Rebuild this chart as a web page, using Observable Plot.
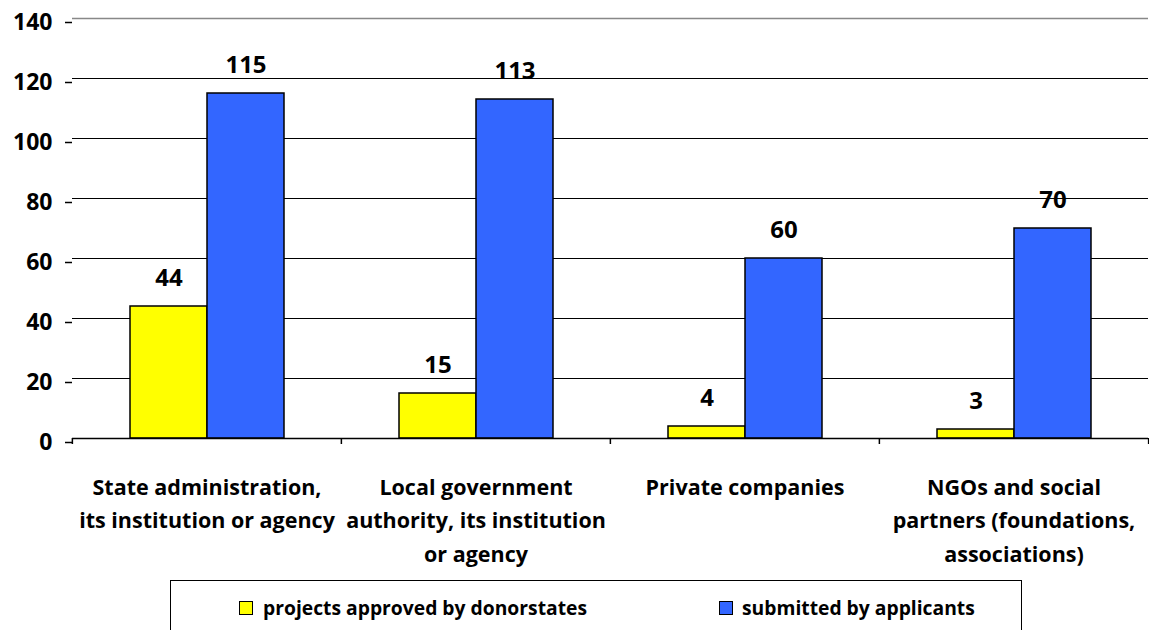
<!DOCTYPE html>
<html>
<head>
<meta charset="utf-8">
<script src="https://cdn.jsdelivr.net/npm/d3@7"></script>
<script src="https://cdn.jsdelivr.net/npm/@observablehq/plot@0.6"></script>
<style>
  html, body { margin: 0; padding: 0; background: #fff; }
  #wrap { position: relative; width: 1149px; height: 630px; overflow: hidden; font-family: "Open Sans", sans-serif; font-weight: bold; }
  #legend { position: absolute; left: 170px; top: 580px; width: 852px; height: 80px; border: 1.5px solid #000; box-sizing: border-box; }
  .item { position: absolute; top: 14px; font-size: 19.3px; line-height: 26px; white-space: nowrap; color: #000; }
  .sw { position: absolute; width: 12px; height: 12px; border: 1px solid #000; }
</style>
</head>
<body>
<div id="wrap"><div id="chart"></div><div id="legend"></div></div>
<script>
// ---- data ----
const categories = [
  "State administration,\nits institution or agency",
  "Local government\nauthority, its institution\nor agency",
  "Private companies",
  "NGOs and social\npartners (foundations,\nassociations)"
];
const seriesNames = ["projects approved by donorstates", "submitted by applicants"];
const approved = [44, 15, 4, 3];
const submitted = [115, 113, 60, 70];
const seriesColors = ["#FFFF00", "#3366FF"];
const yTicks = [0, 20, 40, 60, 80, 100, 120, 140];
const gridValues = [20, 40, 60, 80, 100, 120];

// ---- table ----
const data = categories.flatMap((c, i) => [
  {category: c, series: seriesNames[0], value: approved[i]},
  {category: c, series: seriesNames[1], value: submitted[i]}
]);

const W = 1149, H = 580;
const mL = 71, mR = 1, mT = 18, mB = 142;
const step = (W - mL - mR) / categories.length;
const FONT = "'Open Sans', sans-serif";

const chart = Plot.plot({
  width: W, height: H,
  marginTop: mT, marginRight: mR, marginBottom: mB, marginLeft: mL,
  style: {fontFamily: FONT, fontWeight: "bold", color: "#000", background: "#fff", overflow: "visible"},
  fx: {domain: categories, padding: 0, label: null},
  x: {domain: seriesNames, paddingInner: 0, paddingOuter: 0.725, axis: null},
  y: {domain: [0, 140], label: null},
  color: {domain: seriesNames, range: seriesColors},
  marks: [
    Plot.ruleY(gridValues, {stroke: "#000", strokeWidth: 1.2}),
    Plot.ruleY([140], {stroke: "#888", strokeWidth: 1.5}),
    Plot.axisY({anchor: "left", ticks: yTicks, tickSize: 7, tickPadding: 13, fontSize: 23, dy: 4, line: true, stroke: "#000", strokeWidth: 1.5, label: null}),
    Plot.axisY({anchor: "right", ticks: yTicks, tickSize: 0, fill: "none", line: true, stroke: "#888", strokeWidth: 1.5, label: null}),
    Plot.barY(data, {fx: "category", x: "series", y: "value", fill: "series", stroke: "#000", strokeWidth: 1.5}),
    Plot.ruleY([0], {stroke: "#000", strokeWidth: 1.5}),
    Plot.text(data, {fx: "category", x: "series", y: "value", text: d => String(d.value), dy: -21, lineAnchor: "bottom", fontSize: 24, fontWeight: "bold", fill: "#000"}),
    Plot.axisFx({anchor: "bottom", tickSize: 6, fill: "none", dx: -step / 2, label: null, stroke: "#000", strokeWidth: 1.5}),
    Plot.axisFx({anchor: "bottom", ticks: [categories[categories.length - 1]], tickSize: 6, fill: "none", dx: step / 2, label: null, stroke: "#000", strokeWidth: 1.5}),
    Plot.axisFx({anchor: "bottom", tickSize: 0, tickPadding: 33, fontSize: 21.5, lineHeight: 1.55, label: null, fill: "#000"})
  ]
});
document.getElementById("chart").appendChild(chart);

// ---- legend ----
const legend = document.getElementById("legend");
const legendPos = [{sw: 68, tx: 92}, {sw: 548, tx: 571}];
seriesNames.forEach((name, i) => {
  const sw = document.createElement("div");
  sw.className = "sw";
  sw.style.background = seriesColors[i];
  sw.style.left = legendPos[i].sw + "px";
  sw.style.top = "20px";
  legend.appendChild(sw);
  const t = document.createElement("div");
  t.className = "item";
  t.style.left = legendPos[i].tx + "px";
  t.textContent = name;
  legend.appendChild(t);
});
</script>
</body>
</html>
